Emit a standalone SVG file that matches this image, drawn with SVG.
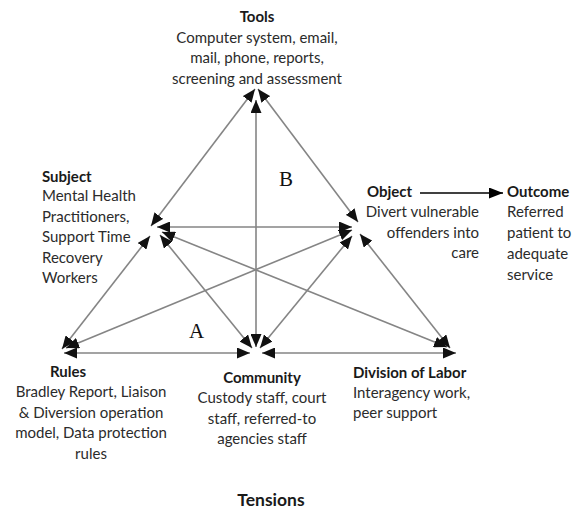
<svg xmlns="http://www.w3.org/2000/svg" width="576" height="518" viewBox="0 0 576 518">
  <style>
    .t { font-family: Lato, "Noto Sans", "DejaVu Sans", sans-serif; font-size: 15px; fill: #2b2b2b; }
    .b { font-weight: bold; fill: #1a1a1a; }
    .c { text-anchor: middle; }
    .e { text-anchor: end; }
    .lbl { font-family: "Liberation Serif", "Times New Roman", serif; font-size: 21px; fill: #111; }
    .edge { stroke: #858585; stroke-width: 1.6; fill: none; marker-start: url(#ah); marker-end: url(#ah); }
  </style>
  <defs>
    <marker id="ah" viewBox="0 0 13 11" refX="13" refY="5.5" markerWidth="13" markerHeight="11" markerUnits="userSpaceOnUse" orient="auto-start-reverse">
      <path d="M0,0 L13,5.5 L0,11 z" fill="#111"/>
    </marker>
    <marker id="ahOut" viewBox="0 0 14 11" refX="14" refY="5.5" markerWidth="14" markerHeight="11" markerUnits="userSpaceOnUse" orient="auto">
      <path d="M0,0 L14,5.5 L0,11 z" fill="#000"/>
    </marker>
  </defs>
  <rect width="576" height="518" fill="#fff"/>

  <!-- connectors of the activity triangle -->
  <g id="connectors">
    <line class="edge" x1="255" y1="89" x2="151" y2="226"/>
    <line class="edge" x1="258" y1="89" x2="358" y2="222"/>
    <line class="edge" x1="256" y1="100" x2="256" y2="347"/>
    <line class="edge" x1="150" y1="236" x2="62" y2="349"/>
    <line class="edge" x1="360" y1="234" x2="450" y2="348"/>
    <line class="edge" x1="64" y1="353" x2="250" y2="353"/>
    <line class="edge" x1="262" y1="353" x2="456" y2="353"/>
    <line class="edge" x1="157" y1="227" x2="352" y2="227"/>
    <line class="edge" x1="160" y1="235" x2="252" y2="348"/>
    <line class="edge" x1="352" y1="236" x2="260" y2="348"/>
    <line class="edge" x1="162" y1="232" x2="447" y2="347"/>
    <line class="edge" x1="66" y1="348" x2="352" y2="230"/>
    <line x1="420" y1="193" x2="503" y2="193" stroke="#000" stroke-width="1.5" marker-end="url(#ahOut)"/>
  </g>

  <g id="tools">
    <text class="t b c" x="257" y="22">Tools</text>
    <text class="t c" x="257" y="42.5">Computer system, email,</text>
    <text class="t c" x="257" y="63">mail, phone, reports,</text>
    <text class="t c" x="257" y="83.5">screening and assessment</text>
  </g>

  <g id="subject">
    <text class="t b" x="42" y="182">Subject</text>
    <text class="t" x="42" y="201">Mental Health</text>
    <text class="t" x="42" y="221.5">Practitioners,</text>
    <text class="t" x="42" y="242">Support Time</text>
    <text class="t" x="42" y="262.5">Recovery</text>
    <text class="t" x="42" y="283">Workers</text>
  </g>

  <g id="object">
    <text class="t b" x="367" y="197">Object</text>
    <text class="t e" x="479" y="217">Divert vulnerable</text>
    <text class="t e" x="479" y="237.5">offenders into</text>
    <text class="t e" x="479" y="258">care</text>
  </g>

  <g id="outcome">
    <text class="t b" x="507" y="197">Outcome</text>
    <text class="t" x="507" y="217">Referred</text>
    <text class="t" x="507" y="238">patient to</text>
    <text class="t" x="507" y="259">adequate</text>
    <text class="t" x="507" y="280">service</text>
  </g>

  <g id="rules">
    <text class="t b c" x="68" y="377">Rules</text>
    <text class="t c" x="91" y="397">Bradley Report, Liaison</text>
    <text class="t c" x="91" y="417.5">&amp; Diversion operation</text>
    <text class="t c" x="91" y="438">model, Data protection</text>
    <text class="t c" x="91" y="458.5">rules</text>
  </g>

  <g id="community">
    <text class="t b c" x="262" y="383">Community</text>
    <text class="t c" x="262" y="403">Custody staff, court</text>
    <text class="t c" x="262" y="423.5">staff, referred-to</text>
    <text class="t c" x="262" y="444">agencies staff</text>
  </g>

  <g id="division">
    <text class="t b" x="353" y="378">Division of Labor</text>
    <text class="t" x="353" y="398">Interagency work,</text>
    <text class="t" x="353" y="418">peer support</text>
  </g>

  <g id="regions">
    <text class="lbl c" x="196.5" y="338">A</text>
    <text class="lbl c" x="286" y="186">B</text>
  </g>

  <g id="tensions">
    <text class="t b c" x="271" y="506" style="font-size:17.5px">Tensions</text>
  </g>
</svg>
